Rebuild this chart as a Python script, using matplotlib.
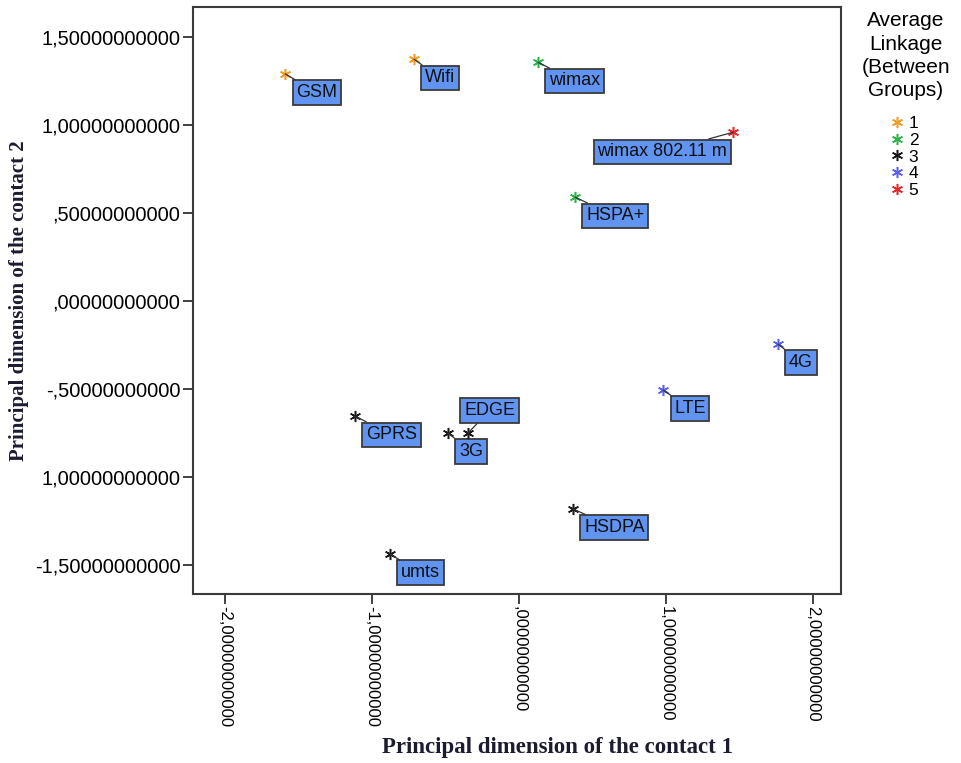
import matplotlib.pyplot as plt
from matplotlib.lines import Line2D

# points
names = ['GSM', 'Wifi', 'wimax', 'wimax 802.11 m', 'HSPA+', '4G', 'LTE',
         'GPRS', '3G', 'EDGE', 'HSDPA', 'umts']
dim1 = [-1.59, -0.714, 0.129, 1.456, 0.381, 1.762, 0.98,
        -1.116, -0.483, -0.347, 0.367, -0.878]
dim2 = [1.29, 1.373, 1.356, 0.959, 0.59, -0.244, -0.505,
        -0.653, -0.749, -0.749, -1.18, -1.436]
group = [1, 1, 2, 5, 2, 4, 4, 3, 3, 3, 3, 3]

group_ids = [1, 2, 3, 4, 5]
group_colors = {1: '#f59a23', 2: '#2db34a', 3: '#1a1a1a', 4: '#5a62e8', 5: '#e8272a'}

xticks = [-2, -1, 0, 1, 2]
xticklabels = ['-2,00000000000', '-1,00000000000', ',00000000000',
               '1,00000000000', '2,00000000000']
yticks = [1.5, 1.0, 0.5, 0.0, -0.5, -1.0, -1.5]
yticklabels = ['1,50000000000', '1,00000000000', ',50000000000', ',00000000000',
               '-,50000000000', '1,00000000000', '-1,50000000000']

# label offset (pixels, right/down) and alignment
label_pos = {'wimax 802.11 m': (-6, 11, 'right', 'top'),
             'EDGE': (-4, -14, 'left', 'bottom')}

plt.rcParams['font.family'] = ['Liberation Sans', 'DejaVu Sans']

fig = plt.figure(figsize=(9.61, 7.63), dpi=100)
ax = fig.add_axes([193/961, 1-594/763, (841-193)/961, (594-7)/763])

star = (6, 2, 0)
for x, y, n, g in zip(dim1, dim2, names, group):
    ax.plot(x, y, marker=star, ms=8, mew=1.1, color=group_colors[g], ls='none', zorder=3)
    dx, dy, ha, va = label_pos.get(n, (11, 10, 'left', 'top'))
    ax.annotate(n, (x, y), xytext=(dx*0.72, -dy*0.72), textcoords='offset points',
                ha=ha, va=va, fontsize=13, color='#111111',
                bbox=dict(boxstyle='square,pad=0.2', fc='#6193f0', ec='#3a3a3a', lw=1.3),
                arrowprops=dict(arrowstyle='-', color='#333333', lw=0.9,
                                shrinkA=0, shrinkB=0))

ax.set_xlim(-2.218, 2.19)
ax.set_ylim(-1.663, 1.67)
ax.set_xticks(xticks)
ax.set_xticklabels(xticklabels, rotation=-90, fontsize=12, va='top', ha='center')
ax.set_yticks(yticks)
ax.set_yticklabels(yticklabels, fontsize=14.5)
ax.tick_params(direction='out', length=7, width=1.3, color='#333333', pad=2)
for s in ax.spines.values():
    s.set_color('#3a3a3a')
    s.set_linewidth(1.5)

ax.set_xlabel('Principal dimension of the contact 1', family='Liberation Serif',
              fontweight='bold', fontsize=16.5, color='#1c1c30')
ax.xaxis.set_label_coords((557-193)/648, -(737-594)/587)
ax.set_ylabel('Principal dimension of the contact 2', family='Liberation Serif',
              fontweight='bold', fontsize=15, color='#1c1c30', labelpad=4)

fig.text(906/961, 1-11/763, 'Average\nLinkage\n(Between\nGroups)', ha='center', va='top',
         fontsize=15, linespacing=1.3, multialignment='center')
handles = [Line2D([], [], marker=star, ms=8, mew=1.1, color=group_colors[g], ls='none')
           for g in group_ids]
fig.legend(handles, [str(g) for g in group_ids],
           loc='upper center', bbox_to_anchor=(904/961, 1-100/763), frameon=False,
           fontsize=12.5, handlelength=0.8, handletextpad=0.3, labelspacing=0.1)

fig.savefig('out.png', dpi=100)
